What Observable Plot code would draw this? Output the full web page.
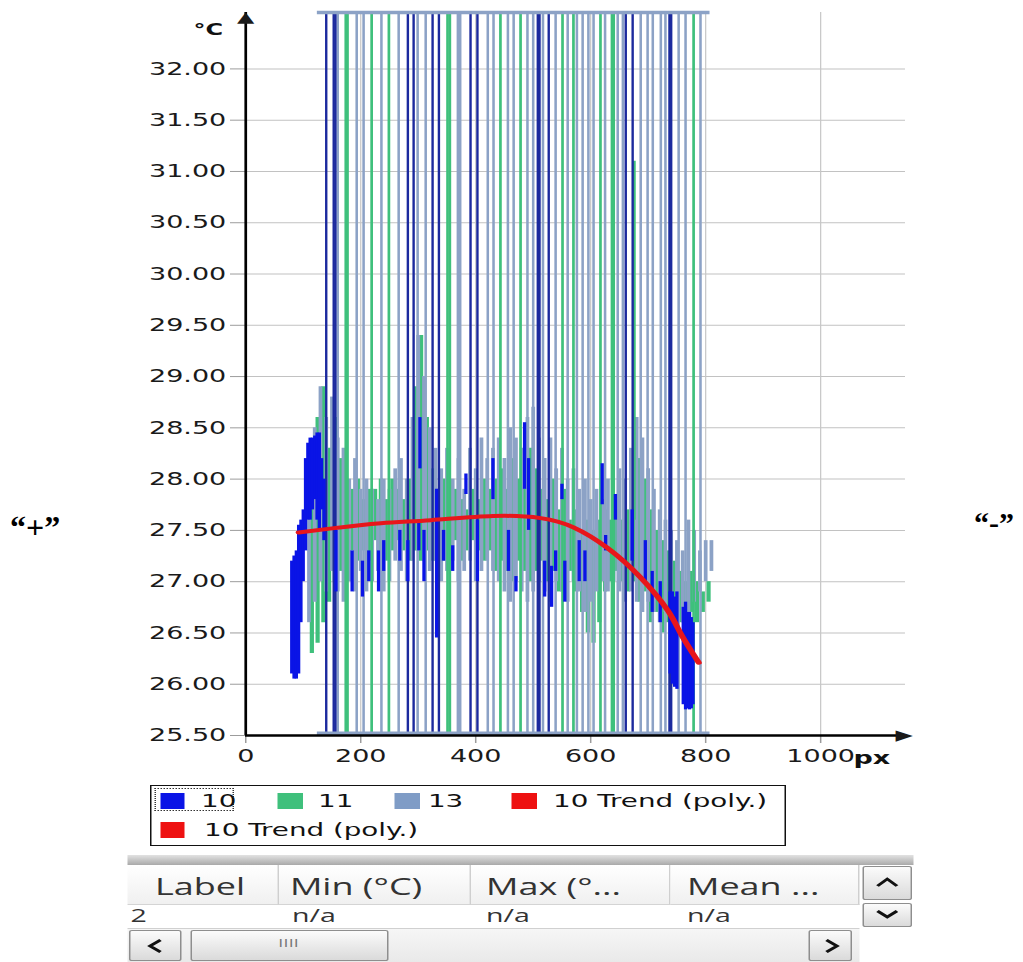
<!DOCTYPE html>
<html><head><meta charset="utf-8">
<script src="https://cdn.jsdelivr.net/npm/d3@7"></script>
<script src="https://cdn.jsdelivr.net/npm/@observablehq/plot@0.6"></script>
<style>
html,body{margin:0;padding:0;background:#fff;}
body{width:1023px;height:962px;overflow:hidden;position:relative;font-family:"DejaVu Sans",sans-serif;}
#stage{position:absolute;left:0;top:0;width:682px;height:962px;transform:scaleX(1.5);transform-origin:0 0;}
#chart{position:absolute;left:0;top:0;}
#chart svg text{fill:#1a1a1a;}
.abs{position:absolute;white-space:nowrap;}
.lg{font-family:"DejaVu Sans";font-size:18.5px;line-height:20px;color:#111;}
.sw{position:absolute;width:16.5px;height:16px;}
.tbl{font-family:"Open Sans";font-size:24px;color:#333;line-height:32px;}
.trow{font-family:"Open Sans";font-size:19px;color:#333;line-height:21px;}
.hcell{position:absolute;top:865px;height:40px;background:linear-gradient(#ffffff,#f0f0f0);border-bottom:1px solid #d4d4d4;border-right:1px solid #cfcfcf;box-sizing:border-box;}
.btn{position:absolute;box-sizing:border-box;border:1px solid #8e8e8e;border-radius:2px;background:linear-gradient(#fbfbfb,#dadada);}
</style></head>
<body>
<div id="stage">
  <div id="chart"></div>
  <div class="abs" style="left:129px;top:20px;font-family:'DejaVu Sans';font-weight:bold;font-size:16px;color:#111;">°C</div>
  <div class="abs" style="left:569px;top:747px;font-family:'DejaVu Sans';font-weight:bold;font-size:18px;color:#111;">px</div>

  <!-- legend -->
  <div class="abs" style="left:100px;top:785px;width:424px;height:61px;border:1.4px solid #111;box-sizing:border-box;"></div>
  <div class="abs" style="left:102.5px;top:788px;width:53px;height:23px;border:1px dotted #333;box-sizing:border-box;"></div>
  <div id="legend"></div>

  <!-- table -->
  <div class="abs" style="left:85.3px;top:855px;width:523.3px;height:10px;background:linear-gradient(#e2e2e2,#a9a9a9);"></div>
  <div id="table"></div>
</div>
<div class="abs" style="left:10px;top:509px;font-family:'Liberation Serif';font-weight:bold;font-size:32px;color:#000;">“+”</div>
<div class="abs" style="left:974px;top:506px;font-family:'Liberation Serif';font-weight:bold;font-size:30px;color:#000;">“-”</div>

<script>
// ---- axis ticks ----
const yTicks = [25.5, 26, 26.5, 27, 27.5, 28, 28.5, 29, 29.5, 30, 30.5, 31, 31.5, 32];
const xTicks = [0, 200, 400, 600, 800, 1000];
const xGrid = [200, 400, 600, 800, 1000];
const xDomain = [0, 1148];
const yDomain = [25.5, 32.55];

// ---- series 13 (grey-blue) band ----
const s13X = [110,120,130,140,150,160,170,180,190,200,210,220,230,240,250,260,270,280,290,300,310,320,330,340,350,360,370,380,390,400,410,420,430,440,450,460,470,480,490,500,510,520,530,540,550,560,570,580,590,600,610,620,630,640,650,660,670,680,690,700,710,720,730,740,750,760,770,780,790,800,810];
const s13Hi = [28.1,28.5,28.9,28.6,28.8,28.4,28.3,28.0,28.2,27.9,
  28.0,27.9,27.8,28.0,27.9,28.1,28.2,28.0,28.6,29.4,
  29.0,28.5,28.3,28.1,28.3,28.0,28.2,27.9,28.3,28.1,
  28.4,28.2,28.3,28.4,28.2,28.5,28.4,28.3,28.6,28.7,
  28.4,28.2,28.4,28.1,28.3,28.0,28.1,27.9,28.0,27.8,
  27.9,27.8,28.0,27.8,28.1,28.0,28.3,28.6,28.4,28.1,
  27.9,27.7,27.6,27.5,27.4,27.3,27.6,27.5,27.3,27.4,
  27.4];
const s13Lo = [26.6,26.8,27.0,26.9,27.1,26.9,26.8,27.0,26.9,27.1,
  26.9,27.0,27.1,26.9,27.0,27.2,27.1,27.0,27.2,27.3,
  27.2,27.1,27.2,27.0,27.1,27.2,27.0,27.1,27.2,27.0,
  27.1,27.2,27.1,27.0,26.9,26.8,27.0,26.9,26.8,26.9,
  27.0,26.9,26.8,27.0,26.9,26.8,27.0,26.9,26.7,26.8,
  26.9,27.0,26.9,27.0,26.9,26.8,26.9,26.8,26.7,26.8,
  26.7,26.6,26.7,26.6,26.5,26.6,26.7,26.8,26.9,27.0,
  27.1];

// ---- series 11 (green) band ----
const s11X = [115,125,135,145,155,165,175,185,195,205,215,225,235,245,255,265,275,285,295,305,315,325,335,345,355,365,375,385,395,405,415,425,435,445,455,465,475,485,495,505,515,525,535,545,555,565,575,585,595,605,615,625,635,645,655,665,675,685,695,705,715,725,735,745,755,765,775,785,795,805];
const s11Hi = [28.2,28.6,28.9,28.3,28.6,28.2,28.0,27.9,28.0,27.8,
  27.9,27.9,28.0,27.8,28.0,27.9,27.8,28.0,28.9,29.4,
  28.6,28.1,27.9,28.0,27.8,27.9,27.8,27.7,27.9,27.8,
  28.0,27.9,28.0,28.1,27.9,28.2,28.0,27.9,28.3,28.1,
  27.9,27.8,28.0,27.7,27.9,27.6,27.7,27.5,27.6,27.5,
  27.6,27.7,27.6,27.8,27.6,27.7,28.0,28.2,28.0,27.7,
  27.5,27.4,27.3,27.2,27.1,27.0,27.1,27.0,26.9,27.0];
const s11Lo = [26.3,26.4,26.6,26.8,27.0,27.1,27.2,27.3,27.2,27.3,
  27.2,27.4,27.3,27.2,27.3,27.4,27.3,27.2,27.3,27.2,
  27.3,27.2,27.3,27.2,27.3,27.4,27.2,27.3,27.4,27.3,
  27.2,27.3,27.1,27.2,27.1,27.0,27.2,27.1,27.0,27.1,
  27.2,27.0,27.1,26.9,27.0,27.1,26.9,26.7,26.5,26.4,
  26.6,26.9,27.0,27.1,27.0,26.9,27.0,26.8,26.9,26.6,
  26.7,26.5,26.6,26.7,26.6,26.5,26.7,26.6,26.7,26.8];
const s11PeakX = [676];
const s11PeakLo = [27.6];
const s11PeakHi = [31.1];

// ---- series 10 (blue) visible segments ----
const s10X = [80,84,88,92,96,100,104,108,112,116,120,124,128,132,136,
  157,185,203,214,231,240,268,282,301,303,310,332,344,360,383,403,430,457,470,485,
  492,520,532,539,550,555,580,590,620,626,643,672,695,707,721,738,742,746,750,761,765,768,772,775,778];
const s10Lo = [26.1,26.05,26.05,26.1,26.6,27.0,27.3,27.6,27.6,27.7,27.8,27.6,27.5,27.7,27.4,
  26.9,26.9,26.85,27.0,26.9,27.1,27.2,27.0,27.3,28.1,27.0,26.45,27.2,27.1,27.85,27.0,27.8,27.1,26.9,27.9,
  27.5,26.85,26.75,27.1,27.8,26.8,27.0,27.0,27.75,27.3,27.6,27.2,27.0,26.7,26.6,26.1,26.0,25.97,25.95,25.8,25.75,25.76,25.75,25.76,25.8];
const s10Hi = [27.2,27.25,27.3,27.55,27.6,27.7,28.2,28.35,28.4,28.4,28.42,28.45,28.45,28.2,28.0,
  27.5,27.3,27.2,27.3,27.3,27.4,27.5,27.4,27.6,28.6,27.5,27.9,27.5,27.35,28.05,27.6,28.2,27.5,27.05,28.55,
  28.2,27.2,27.15,27.3,27.95,27.2,27.4,27.3,28.15,27.45,27.85,27.7,27.4,27.1,27.0,26.9,26.9,26.85,26.9,26.75,26.8,26.7,26.7,26.65,26.6];

// ---- off-scale spikes (x positions) ----
const s10Spikes = [140, 153, 156, 282, 292, 325, 336, 391, 403, 508, 511, 527, 661, 673, 737, 740];
const s11Spikes = [174, 177, 219, 249, 351, 355, 443, 478, 551, 570, 617, 637, 640, 779];
const s13Spikes = [160, 193, 205, 236, 266, 299, 313, 369, 373, 421, 431, 456, 466, 490, 500, 517, 539, 560, 576, 586, 596, 605, 625, 647, 656, 687, 699, 708, 722, 730, 753, 765, 791];
const clipSpan = [125, 808];

// ---- 10 Trend (poly.) ----
const trendX = [92, 150, 235, 322, 430, 513, 570, 629, 687, 734, 757, 788];
const trendY = [27.48, 27.52, 27.57, 27.60, 27.64, 27.62, 27.53, 27.33, 27.04, 26.72, 26.49, 26.21];

// ---- legend / table text ----
const legendItems = ["10", "11", "13", "10 Trend (poly.)", "10 Trend (poly.)"];
const tableHeaders = ["Label", "Min (°C)", "Max (°...", "Mean ..."];
const tableRow = ["2", "n/a", "n/a", "n/a"];

const c10 = "#0a14e6", c10s = "#1c2a9e", c11 = "#3fc07c", c13 = "#8ca2c6", cTrend = "#e8161b";

const band = (xs, lo, hi) => xs.map((x, i) => ({x, lo: lo[i], hi: hi[i]}));
const yHi = yDomain[1], yLo = yDomain[0];

const chart = Plot.plot({
  width: 682, height: 775,
  marginLeft: 163.33, marginRight: 78.67, marginTop: 12, marginBottom: 40,
  style: {fontFamily: "DejaVu Sans", fontSize: "18px", color: "#9c9c9c", background: "transparent", overflow: "visible"},
  x: {domain: xDomain, ticks: xTicks, tickSize: 8, tickPadding: 6, tickFormat: d => String(d), label: null},
  y: {domain: yDomain, ticks: yTicks, tickSize: 10, tickPadding: 3, tickFormat: d => d.toFixed(2), label: null},
  marks: [
    Plot.ruleY(yTicks, {stroke: "#c2c2c2", strokeWidth: 1}),
    Plot.ruleX(xGrid, {stroke: "#c6c6c6", strokeWidth: 0.8}),
    Plot.ruleX(band(s11X, s11Lo, s11Hi), {x: "x", y1: "lo", y2: "hi", stroke: c11, strokeWidth: 2.8}),
    Plot.ruleX(band(s13X, s13Lo, s13Hi), {x: "x", y1: "lo", y2: "hi", stroke: c13, strokeWidth: 2.5}),
    Plot.ruleX(band(s11PeakX, s11PeakLo, s11PeakHi), {x: "x", y1: "lo", y2: "hi", stroke: c11, strokeWidth: 1.8}),
    Plot.ruleX(s13Spikes, {x: d => d, y1: () => yLo, y2: () => yHi, stroke: c13, strokeWidth: 1.7}),
    Plot.ruleX(s11Spikes, {x: d => d, y1: () => yLo, y2: () => yHi, stroke: c11, strokeWidth: 1.8}),
    Plot.ruleX(s10Spikes, {x: d => d, y1: () => yLo, y2: () => yHi, stroke: c10s, strokeWidth: 1.6}),
    Plot.ruleX(band(s10X, s10Lo, s10Hi), {x: "x", y1: "lo", y2: "hi", stroke: c10, strokeWidth: 2.2}),
    Plot.ruleY([yHi], {x1: () => clipSpan[0], x2: () => clipSpan[1], stroke: c13, strokeWidth: 3.5}),
    Plot.ruleY([yLo], {x1: () => clipSpan[0], x2: () => clipSpan[1], stroke: c13, strokeWidth: 4, dy: -2}),
    Plot.line(trendX.map((x, i) => ({x, y: trendY[i]})), {x: "x", y: "y", stroke: cTrend, strokeWidth: 4, curve: "natural"}),
    Plot.ruleX([0], {y1: () => yLo, y2: () => yHi, stroke: "#000", strokeWidth: 1.8}),
    Plot.ruleY([yLo], {x1: () => xDomain[0], x2: () => xDomain[1], stroke: "#000", strokeWidth: 2.5}),
    Plot.text([0], {x: () => xDomain[0], y: () => yHi, text: () => "▲", fontSize: 15, dy: 5, fill: "#000"}),
    Plot.text([0], {x: () => xDomain[1], y: () => yLo, text: () => "▶", fontSize: 15, dx: -1, fill: "#000"})
  ]
});
document.getElementById("chart").appendChild(chart);

// legend (stage coordinates are pre-stretch)
const lg = document.getElementById("legend");
const legendLayout = [
  {sw: 106.7, tx: 134, y: 801, color: c10},
  {sw: 185.3, tx: 212, y: 801, color: c11},
  {sw: 263.3, tx: 285.3, y: 801, color: "#7f9cc6"},
  {sw: 341.3, tx: 368.7, y: 801, color: "#ee1111"},
  {sw: 106.7, tx: 136, y: 830, color: "#ee1111"}
];
legendItems.forEach((t, i) => {
  const L = legendLayout[i];
  const s = document.createElement("div");
  s.className = "sw abs"; s.style.left = L.sw + "px"; s.style.top = (L.y - 8) + "px"; s.style.background = L.color;
  lg.appendChild(s);
  const d = document.createElement("div");
  d.className = "abs lg"; d.style.left = L.tx + "px"; d.style.top = (L.y - 10) + "px"; d.textContent = t;
  lg.appendChild(d);
});

// table
const tb = document.getElementById("table");
const cols = [[85.3, 186], [186, 314], [314, 446.7], [446.7, 573.5]];
const textLeft = [103.3, 193.3, 324, 458];
tableHeaders.forEach((h, i) => {
  const c = document.createElement("div");
  c.className = "hcell"; c.style.left = cols[i][0] + "px"; c.style.width = (cols[i][1] - cols[i][0]) + "px";
  tb.appendChild(c);
  const t = document.createElement("div");
  t.className = "abs tbl"; t.style.left = textLeft[i] + "px"; t.style.top = "870px"; t.textContent = h;
  tb.appendChild(t);
});
const rowLeft = [87, 194.7, 324, 458];
tableRow.forEach((v, i) => {
  const t = document.createElement("div");
  t.className = "abs trow"; t.style.left = rowLeft[i] + "px"; t.style.top = "905px"; t.textContent = v;
  tb.appendChild(t);
});
tb.insertAdjacentHTML("beforeend", `
  <div class="abs" style="left:85.3px;top:928px;width:488px;height:34px;background:linear-gradient(#f6f6f6,#e9e9e9);border-top:1px solid #d0d0d0;box-sizing:border-box;"></div>
  <div class="btn" style="left:86px;top:930px;width:35px;height:31px;"><svg width="33" height="29" style="position:absolute;left:0;top:0"><polyline points="20,9 13,15 20,21" fill="none" stroke="#111" stroke-width="2.5"/></svg></div>
  <div class="btn" style="left:126.7px;top:930px;width:132px;height:31px;"><div class="abs" style="left:58px;top:7px;font:10px 'DejaVu Sans';color:#777;letter-spacing:0.5px;">IIII</div></div>
  <div class="btn" style="left:538.7px;top:930px;width:29.5px;height:31px;"><svg width="28" height="29" style="position:absolute;left:0;top:0"><polyline points="11,9 18,15 11,21" fill="none" stroke="#111" stroke-width="2.5"/></svg></div>
  <div class="btn" style="left:575px;top:866px;width:33px;height:34px;"><svg width="31" height="32" style="position:absolute;left:0;top:0"><polyline points="9,19 15.5,12 22,19" fill="none" stroke="#111" stroke-width="2.5"/></svg></div>
  <div class="btn" style="left:575px;top:903px;width:33px;height:24px;"><svg width="31" height="22" style="position:absolute;left:0;top:0"><polyline points="9,7 15.5,13 22,7" fill="none" stroke="#111" stroke-width="2.5"/></svg></div>
`);
</script>
</body></html>
